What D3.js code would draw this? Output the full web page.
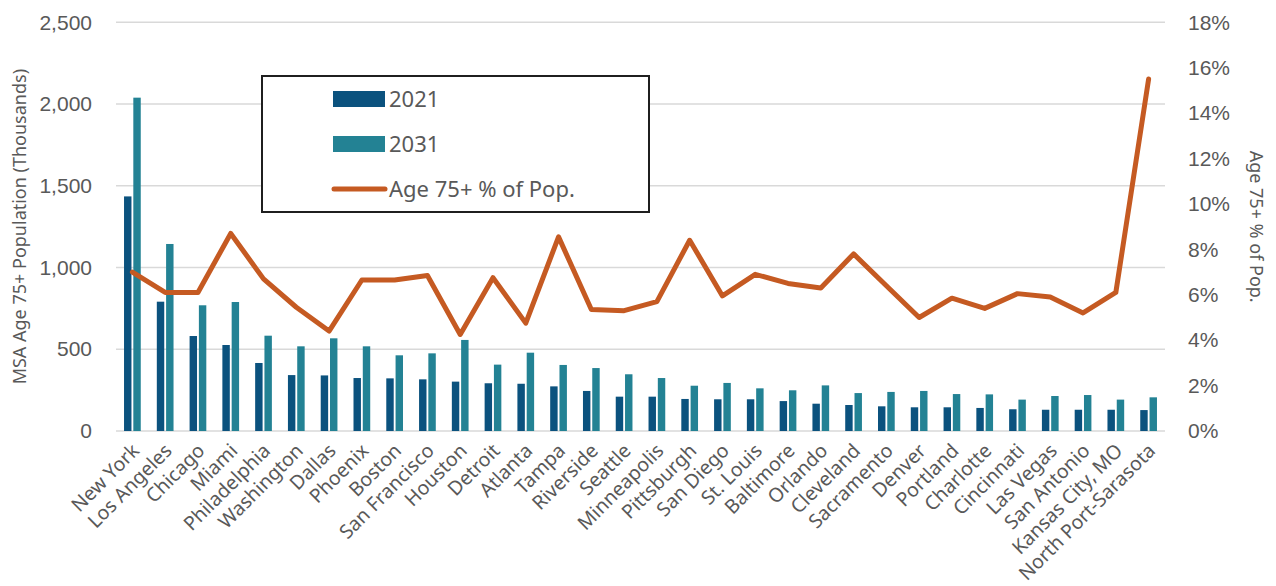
<!DOCTYPE html>
<html>
<head>
<meta charset="utf-8">
<script src="https://cdn.jsdelivr.net/npm/d3@7"></script>
<style>
  html, body { margin: 0; padding: 0; background: #fff; }
  svg { display: block; font-family: "Noto Sans", "Open Sans", sans-serif; }
</style>
</head>
<body>
<svg id="chart" width="1276" height="586"></svg>
<script>
// Metro areas, ordered by 2021 population aged 75+
const categories = [
  "New York", "Los Angeles", "Chicago", "Miami", "Philadelphia", "Washington",
  "Dallas", "Phoenix", "Boston", "San Francisco", "Houston", "Detroit",
  "Atlanta", "Tampa", "Riverside", "Seattle", "Minneapolis", "Pittsburgh",
  "San Diego", "St. Louis", "Baltimore", "Orlando", "Cleveland", "Sacramento",
  "Denver", "Portland", "Charlotte", "Cincinnati", "Las Vegas", "San Antonio",
  "Kansas City, MO", "North Port-Sarasota"
];

// Population aged 75+ (thousands)
const pop2021 = [
  1435, 791, 581, 526, 416, 342, 340, 324, 322, 316, 302, 292,
  289, 273, 245, 210, 210, 196, 194, 194, 183, 167, 159, 151,
  145, 145, 141, 133, 130, 130, 130, 128
];
const pop2031 = [
  2039, 1144, 769, 789, 583, 518, 567, 518, 463, 475, 557, 406,
  479, 404, 385, 347, 324, 277, 294, 261, 249, 279, 232, 239,
  245, 226, 224, 192, 214, 220, 192, 206
];

// Share of metro population aged 75+ (%)
const pctAge75 = [
  7.0, 6.1, 6.1, 8.7, 6.7, 5.45, 4.4, 6.65, 6.65, 6.85, 4.25, 6.75,
  4.75, 8.55, 5.35, 5.3, 5.7, 8.4, 5.95, 6.9, 6.5, 6.3, 7.8, 6.4,
  5.0, 5.85, 5.4, 6.05, 5.9, 5.2, 6.1, 15.5
];

const leftTicks = [0, 500, 1000, 1500, 2000, 2500];
const rightTicks = [0, 2, 4, 6, 8, 10, 12, 14, 16, 18];
const seriesNames = ["2021", "2031"];
const lineName = "Age 75+ % of Pop.";

const colors = { "2021": "#0b527e", "2031": "#238294", line: "#c55a22" };
const textColor = "#595959";

const svg = d3.select("#chart");
const plot = { left: 116, right: 1165, top: 22.3, bottom: 431 };

const x0 = d3.scaleBand()
  .domain(categories)
  .range([plot.left, plot.right])
  .paddingInner(0.49)
  .paddingOuter(0.245);
const x1 = d3.scaleBand()
  .domain(seriesNames)
  .range([0, x0.bandwidth()])
  .paddingInner(0.2);
const yL = d3.scaleLinear().domain([0, 2500]).range([plot.bottom, plot.top]);
const yR = d3.scaleLinear().domain([0, 18]).range([plot.bottom, plot.top]);

// Horizontal gridlines
svg.append("g")
  .selectAll("line")
  .data(leftTicks)
  .join("line")
  .attr("x1", plot.left).attr("x2", plot.right)
  .attr("y1", d => yL(d)).attr("y2", d => yL(d))
  .attr("stroke", "#d9d9d9").attr("stroke-width", 1.5);

// Left axis
const leftAxis = svg.append("g")
  .attr("transform", `translate(${plot.left},0)`)
  .call(d3.axisLeft(yL).tickValues(leftTicks).tickFormat(d3.format(",")).tickSize(0).tickPadding(24));
leftAxis.select(".domain").remove();
leftAxis.selectAll("text")
  .attr("fill", textColor).style("font-size", "21px");

// Right axis
const rightAxis = svg.append("g")
  .attr("transform", `translate(${plot.right},0)`)
  .call(d3.axisRight(yR).tickValues(rightTicks).tickFormat(d => d + "%").tickSize(0).tickPadding(23));
rightAxis.select(".domain").remove();
rightAxis.selectAll("text")
  .attr("fill", textColor).style("font-size", "21px");

// Clustered bars
const rows = categories.map((c, i) => ({ cat: c, values: [
  { key: "2021", v: pop2021[i] }, { key: "2031", v: pop2031[i] }
]}));
svg.append("g")
  .selectAll("g")
  .data(rows)
  .join("g")
  .attr("transform", d => `translate(${x0(d.cat)},0)`)
  .selectAll("rect")
  .data(d => d.values)
  .join("rect")
  .attr("x", d => x1(d.key))
  .attr("width", x1.bandwidth())
  .attr("y", d => yL(d.v))
  .attr("height", d => yL(0) - yL(d.v))
  .attr("fill", d => colors[d.key]);

// Percentage line
const line = d3.line()
  .x((d, i) => x0(categories[i]) + x0.bandwidth() / 2)
  .y(d => yR(d));
svg.append("path")
  .datum(pctAge75)
  .attr("d", line)
  .attr("fill", "none")
  .attr("stroke", colors.line)
  .attr("stroke-width", 5)
  .attr("stroke-linejoin", "round")
  .attr("stroke-linecap", "round");

// Category labels, rotated
svg.append("g")
  .selectAll("text")
  .data(categories)
  .join("text")
  .attr("transform", d => `translate(${x0(d) + x0.bandwidth() / 2 + 8},${plot.bottom + 21}) rotate(-45)`)
  .attr("text-anchor", "end")
  .attr("fill", textColor)
  .style("font-size", "19.5px")
  .text(d => d);

// Axis titles
svg.append("text")
  .attr("transform", `translate(26,${(plot.top + plot.bottom) / 2}) rotate(-90)`)
  .attr("text-anchor", "middle")
  .attr("fill", textColor)
  .style("font-size", "18px")
  .text("MSA Age 75+ Population (Thousands)");
svg.append("text")
  .attr("transform", `translate(1250,${(plot.top + plot.bottom) / 2}) rotate(90)`)
  .attr("text-anchor", "middle")
  .attr("fill", textColor)
  .style("font-size", "18px")
  .text(lineName);

// Legend
const legend = svg.append("g");
legend.append("rect")
  .attr("x", 262).attr("y", 76).attr("width", 387).attr("height", 136)
  .attr("fill", "#fff").attr("stroke", "#1f1f1f").attr("stroke-width", 2);
const legendRows = [
  { label: "2021", type: "bar", color: colors["2021"], y: 99 },
  { label: "2031", type: "bar", color: colors["2031"], y: 144 },
  { label: lineName, type: "line", color: colors.line, y: 189 }
];
legendRows.forEach(r => {
  if (r.type === "bar") {
    legend.append("rect").attr("x", 333).attr("y", r.y - 8).attr("width", 52).attr("height", 16).attr("fill", r.color);
  } else {
    legend.append("line").attr("x1", 334).attr("x2", 385).attr("y1", r.y).attr("y2", r.y)
      .attr("stroke", r.color).attr("stroke-width", 5).attr("stroke-linecap", "round");
  }
  legend.append("text")
    .attr("x", 389).attr("y", r.y + 8)
    .attr("fill", textColor)
    .style("font-size", "22px")
    .text(r.label);
});
</script>
</body>
</html>
